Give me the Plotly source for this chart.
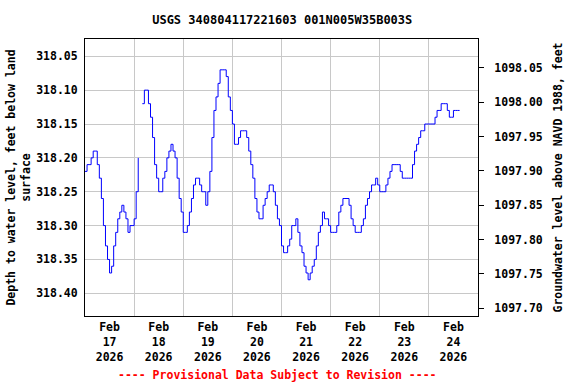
import pandas as pd
import plotly.graph_objects as go

# ---- data (depth to water level, feet below land surface, hourly) ----
start_time = "2026-02-17 00:00"
feb17 = [318.22, 318.21, 318.21, 318.20, 318.19, 318.19, 318.21, 318.23, 318.26, 318.30, 318.33, 318.35,
         318.37, 318.36, 318.33, 318.31, 318.29, 318.28, 318.27, 318.28, 318.29, 318.31, 318.30, 318.30]
feb18 = [318.29, 318.25, 318.20, None, 318.12, 318.10, 318.10, 318.12, 318.14, 318.17, 318.21, 318.23,
         318.25, 318.25, 318.23, 318.22, 318.20, 318.19, 318.18, 318.19, 318.20, 318.23, 318.26, 318.28]
feb19 = [318.31, 318.31, 318.30, 318.28, 318.26, 318.24, 318.23, 318.23, 318.24, 318.25, 318.25, 318.27,
         318.25, 318.22, 318.17, 318.13, 318.11, 318.09, 318.07, 318.07, 318.07, 318.08, 318.11, 318.13]
feb20 = [318.15, 318.18, 318.18, 318.17, 318.16, 318.16, 318.16, 318.17, 318.19, 318.21, 318.23, 318.26,
         318.28, 318.29, 318.29, 318.27, 318.26, 318.25, 318.24, 318.24, 318.25, 318.27, 318.29, 318.30]
feb21 = [318.33, 318.34, 318.34, 318.33, 318.32, 318.30, 318.30, 318.29, 318.31, 318.33, 318.34, 318.36,
         318.37, 318.38, 318.37, 318.36, 318.35, 318.33, 318.31, 318.30, 318.28, 318.29, 318.29, 318.30]
feb22 = [318.31, 318.31, 318.31, 318.30, 318.28, 318.27, 318.26, 318.26, 318.26, 318.27, 318.29, 318.30,
         318.31, 318.31, 318.31, 318.30, 318.29, 318.27, 318.26, 318.25, 318.24, 318.24, 318.23, 318.24]
feb23 = [318.25, 318.25, 318.25, 318.24, 318.23, 318.22, 318.21, 318.21, 318.21, 318.21, 318.22, 318.23,
         318.23, 318.23, 318.23, 318.23, 318.21, 318.19, 318.18, 318.17, 318.16, 318.16, 318.15, 318.15]
feb24 = [318.15, 318.15, 318.15, 318.14, 318.13, 318.13, 318.12, 318.12, 318.12, 318.13, 318.14, 318.14,
         318.13, 318.13, 318.13, 318.13]

depth = feb17 + feb18 + feb19 + feb20 + feb21 + feb22 + feb23 + feb24
times = pd.date_range(start_time, periods=len(depth), freq="h")

datum = 1416.12  # land surface elevation, ft NAVD 1988
elev = [None if d is None else datum - d for d in depth]

left_ticks = [318.05, 318.10, 318.15, 318.20, 318.25, 318.30, 318.35, 318.40]
right_ticks = [1097.70, 1097.75, 1097.80, 1097.85, 1097.90, 1097.95, 1098.00, 1098.05]
day_labels = ["Feb<br>17<br>2026", "Feb<br>18<br>2026", "Feb<br>19<br>2026", "Feb<br>20<br>2026",
              "Feb<br>21<br>2026", "Feb<br>22<br>2026", "Feb<br>23<br>2026", "Feb<br>24<br>2026"]
label_times = pd.date_range("2026-02-17 12:00", periods=len(day_labels), freq="D")

FONT = "DejaVu Sans Mono"
GRID = "#c8c8c8"

fig = go.Figure()
fig.add_trace(go.Scatter(x=times, y=depth, mode="lines", line=dict(color="#0000ff", width=1, shape="hv"),
                         connectgaps=False, showlegend=False, hoverinfo="skip"))
fig.add_trace(go.Scatter(x=times, y=elev, mode="lines", line=dict(color="rgba(0,0,0,0)", width=0),
                         connectgaps=False, showlegend=False, hoverinfo="skip", yaxis="y2"))

fig.update_layout(
    width=576, height=384,
    margin=dict(l=85, r=98, t=39, b=68, autoexpand=False),
    paper_bgcolor="white", plot_bgcolor="white",
    font=dict(family=FONT, size=11.5, color="black", weight="bold"),
    title=dict(text="USGS 340804117221603 001N005W35B003S", x=0.49, xanchor="center",
               y=(384 - 20) / 384, yanchor="middle",
               font=dict(family=FONT, size=12, color="black", weight="bold"), automargin=False),
    xaxis=dict(
        range=["2026-02-17 00:00", "2026-02-25 00:00"],
        tickvals=list(label_times), ticktext=day_labels, ticks="",
        showgrid=False, showline=True, linecolor="black", linewidth=1, mirror=True,
        tickfont=dict(family=FONT, size=11.5, weight="bold"),
        minor=dict(tick0="2026-02-17", dtick=86400000, showgrid=True, gridcolor=GRID,
                   gridwidth=1, ticks=""),
        zeroline=False, automargin=False,
    ),
    yaxis=dict(
        range=[318.4335, 318.0245],
        tickvals=left_ticks, tickformat=".2f", ticks="", ticklabelstandoff=4,
        showgrid=True, gridcolor=GRID, gridwidth=1,
        showline=True, linecolor="black", linewidth=1, mirror=True, zeroline=False,
        title=dict(text="Depth to water level, feet below land<br>surface",
                   font=dict(family=FONT, size=11.5, weight="bold"), standoff=3),
        tickfont=dict(family=FONT, size=11.5, weight="bold"), automargin=False,
    ),
    yaxis2=dict(
        overlaying="y", side="right",
        range=[1097.6888, 1098.0918],
        tickvals=right_ticks, tickformat=".2f", ticks="outside", ticklen=5, tickcolor="black",
        ticklabelstandoff=8,
        showgrid=False, showline=True, linecolor="black", linewidth=1, zeroline=False,
        title=dict(text="Groundwater level above NAVD 1988, feet",
                   font=dict(family=FONT, size=11.5, weight="bold"), standoff=12),
        tickfont=dict(family=FONT, size=11.5, weight="bold"), automargin=False,
    ),
    annotations=[dict(text="---- Provisional Data Subject to Revision ----",
                      xref="paper", yref="paper", x=0.49, y=(316 - 375) / 277,
                      xanchor="center", yanchor="middle", showarrow=False,
                      font=dict(family=FONT, size=11.5, color="red", weight="bold"))],
)

fig.write_html("out.html", config={"displayModeBar": False},
               post_script="document.body.style.margin='0';document.body.style.overflow='hidden';")
